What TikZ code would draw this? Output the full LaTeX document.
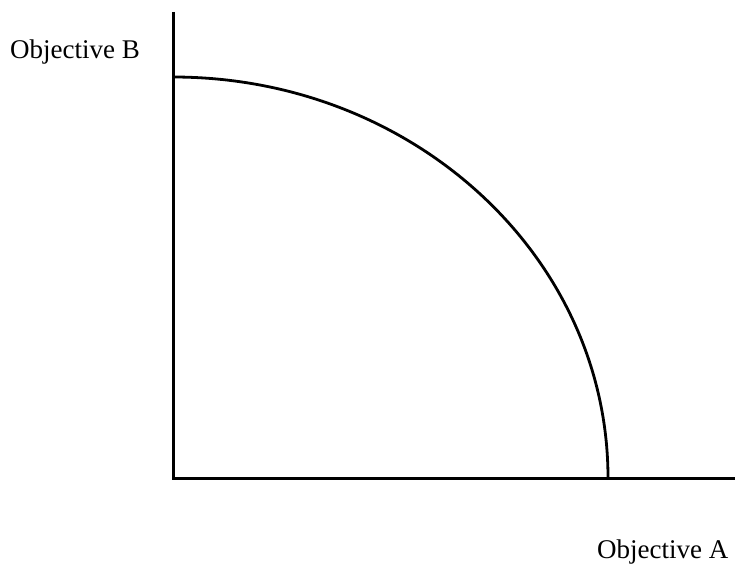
\documentclass[tikz,border=0pt]{standalone}
\usepackage{fontspec}
\setmainfont{Liberation Serif}
\begin{document}
\begin{tikzpicture}[x=1pt,y=-1pt,
  axisline/.style={line width=3pt},
  frontier/.style={line width=2.8pt},
  lbl/.style={inner sep=0pt,anchor=base west,font=\fontsize{27}{32}\selectfont}]
\useasboundingbox (0,0) rectangle (735,564);
\coordinate (O) at (173,478);
\coordinate (ytop) at (173,12);
\coordinate (xend) at (735,478);
\coordinate (cB) at (173,77);
\coordinate (cA) at (608,478);
\draw[axisline] (ytop) -- (O) -- (xend);
\draw[frontier] (cB) arc[start angle=-90, end angle=0, x radius=435, y radius=401];
\node[lbl] (labB) at (10,59) {Objective B};
\node[lbl] (labA) at (597,558) {Objective A};
\end{tikzpicture}
\end{document}
